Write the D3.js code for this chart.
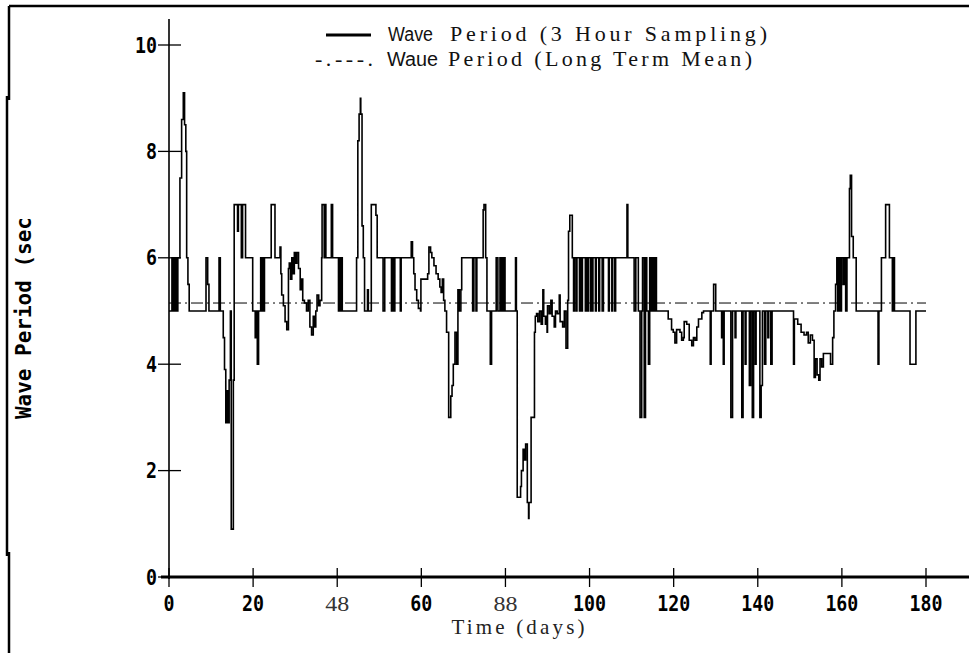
<!DOCTYPE html>
<html>
<head>
<meta charset="utf-8">
<script src="https://cdn.jsdelivr.net/npm/d3@7"></script>
<style>
  html, body { margin: 0; padding: 0; background: #fff; }
  svg { display: block; }
</style>
</head>
<body>
<div id="chart"></div>
<script>
// wave period, 3 hour sampling: [day, seconds] (step trace)
const wavePeriod = [
  [0,5],[0.7,6],[1.0,5],[1.2,6],[1.5,5],[1.7,6],[1.9,5],[2.1,6],
  [2.6,7.5],[3.0,8.6],[3.4,9.1],[3.7,8.5],[4.0,8.0],[4.2,6.0],[4.5,5.5],[4.8,5],
  [8.8,6],[9.2,5.5],[9.5,5],[11.9,6],[12.2,5],[12.9,4.5],[13.2,3.9],[13.5,2.9],[13.8,3.5],
  [14.0,2.9],[14.3,3.7],[14.6,5],[14.8,0.9],[15.3,3.7],[15.5,7],
  [16.3,6.5],[16.5,7],[17.2,6],[17.5,7],[18.2,6],[19.9,5],[20.5,4.5],[20.7,5],[21.0,4.0],
  [21.3,5],[21.8,6],[22.0,5],[22.2,6],[22.4,5],[22.7,6],[24.3,7],[25.2,6],
  [26.4,6.2],[26.6,5.7],[26.8,5.3],[27.2,5.1],[27.6,4.8],[28.0,4.65],[28.4,5.8],[28.6,5.9],
  [28.9,5.6],[29.2,6.0],[29.5,5.7],[29.8,6.1],[30.1,5.9],[30.4,6.1],[30.8,5.8],[31.2,5.4],
  [31.5,5.6],[31.8,5.2],[32.2,5.15],[32.7,5.0],[33.1,5.2],[33.5,4.7],[33.9,4.55],[34.3,4.9],
  [34.6,4.7],[34.9,5.0],[35.2,5.3],[35.6,5.1],[35.9,5.2],
  [36.3,6],[36.4,7],[36.9,6],[37.1,7],[37.3,6],[38.6,7],[38.9,6],[40.3,5],[40.5,6],[40.8,5],
  [41.0,6],[41.2,5],
  [44.6,6],[44.9,8.2],[45.2,8.7],[45.5,9.0],[45.6,8.7],[45.9,6.6],[46.2,6.0],[46.5,5],
  [47.2,5.4],[47.4,5],[48.1,7],[49.2,6.8],[49.5,6],
  [50.9,5],[51.3,6],[52.9,5],[53.2,6],[53.4,5],[53.7,6],[55.0,5],[55.2,6],
  [57.6,6.3],[57.9,6.0],[58.2,5.7],[58.5,5.4],[58.9,5.2],[59.3,5.05],[59.8,5.0],
  [59.9,5.6],[61.5,5.7],[61.8,6.2],[62.2,6.1],[62.5,6.0],[63.0,5.85],[63.5,5.7],[64.0,5.6],
  [64.4,5.45],[64.7,5.35],[65.0,5.6],[65.3,5.2],[65.6,5.0],[66.0,4.6],[66.5,3.0],[67.0,3.4],
  [67.3,3.6],[67.6,4.0],[68.0,4.6],[68.4,4.0],[68.7,5.4],[69.0,5.0],[69.4,5.4],[69.6,6],
  [72.2,5],[72.5,6],[73.0,5],[73.2,6],[74.7,6.9],[74.9,7],[75.3,6],[75.6,5],[76.4,4.0],
  [76.7,5],[77.8,6],[78.2,5],[78.7,6],[78.9,5],[79.1,6],[79.4,5],[79.6,6],[79.9,5],
  [82.4,6],[82.6,5],
  [82.8,1.5],[83.6,1.7],[83.8,2.0],[84.2,2.4],[84.5,2.2],[84.8,2.5],[85.2,1.4],[85.5,1.1],
  [85.6,1.4],[86.1,3.0],[86.9,4.6],[87.1,4.9],
  [87.4,4.95],[87.7,4.8],[88.1,5.0],[88.5,4.75],[88.8,5.0],[88.9,5.4],[89.1,4.9],[89.5,4.75],
  [89.7,4.9],[89.9,4.6],[90.0,5.1],[90.4,4.95],[90.8,5.2],[91.1,4.9],[91.6,4.7],[91.9,5.0],
  [92.3,4.95],[92.8,5.3],[93.0,4.8],[93.6,4.7],[94.0,5.0],[94.4,4.3],[94.8,5.2],[95.0,6.5],
  [95.3,6.8],[95.9,6.0],
  [96.2,5],[96.4,6],[96.8,5],[97.0,6],[97.6,5],[97.8,6],[98.1,5],[98.3,6],[99.0,5],[99.2,6],
  [99.5,5],[99.7,6],[100.2,5],[100.4,6],[100.6,5],[100.8,6],[101.4,5],[101.6,6],
  [102.2,5],[102.4,6],[103.0,5],[103.3,6],[104.5,5],[104.7,6],[105.3,5],[105.5,6],
  [106.0,5],[106.2,6],[108.9,7],[109.1,6],[110.6,5],[111.0,6],[111.6,5],[112.0,3.0],
  [112.4,5],[112.6,6],[113.0,3.0],[113.3,6],[113.6,5],[114.0,4.0],[114.3,6],[114.5,5],
  [114.7,6],[115.0,5],[115.2,6],[115.5,5],[115.7,6],[115.9,5],
  [118.0,5.0],[118.7,4.85],[119.5,4.65],[119.9,4.6],[120.3,4.4],[120.7,4.65],[121.5,4.6],
  [121.9,4.45],[122.3,4.5],[122.5,4.8],[123.1,4.75],[123.7,4.45],[124.3,4.35],[124.7,4.5],
  [125.1,4.45],[125.5,4.7],[125.9,4.85],[126.7,4.97],[127.1,5.0],
  [128.7,4.0],[128.9,5.0],[129.5,5.5],[130.0,5.0],[131.4,4.5],[131.7,5.0],[131.8,4.0],
  [132.0,5.0],[133.6,3.0],[134.0,5.0],[134.6,4.5],[134.8,5.0],[136.2,3.0],[136.5,5.0],
  [137.0,4.0],[137.2,5.0],[138.0,3.6],[138.3,5.0],[138.7,3.0],[139.0,5.0],[139.4,4.0],
  [139.6,5.0],[140.5,3.0],[140.8,3.6],[141.1,5.0],[141.6,4.0],[141.9,5.0],[142.4,4.5],
  [142.6,5.0],[143.1,4.0],[143.4,5.0],
  [148.5,4.0],[148.7,4.85],[149.5,4.75],[150.3,4.6],[151.0,4.55],[151.6,4.6],[152.0,4.4],
  [152.5,4.55],[153.0,4.45],[153.4,3.75],[153.7,4.1],[154.1,3.8],[154.5,3.7],[154.8,4.1],
  [155.2,3.95],[155.6,4.2],[156.8,4.2],[157.3,4.0],[157.8,4.5],[158.1,5.0],
  [158.5,5.5],[158.8,6.0],[159.0,5.0],[159.3,6.0],[159.6,5.0],[159.9,6.0],[160.3,5.5],
  [160.6,6.0],[160.9,5.0],[161.2,6.0],[161.8,7.3],[162.0,7.55],[162.3,6.4],[162.7,6.0],
  [163.4,5.0],
  [168.6,4.0],[168.8,5.0],[169.4,6.0],[170.4,7.0],[171.3,6.0],[172.0,5.0],[172.2,6.0],
  [172.5,5.0],[176.2,4.0],[177.6,5.0],[180,5.0]
];
const meanPeriod = 5.15;   // long term mean (s)

const xTicks = [0, 20, 40, 60, 80, 100, 120, 140, 160, 180];
const xTickLabels = ["0", "20", "48", "60", "88", "100", "120", "140", "160", "180"];
const yTicks = [0, 2, 4, 6, 8, 10];
const yTickLabels = ["0", "2", "4", "6", "8", "10"];

const width = 969;
const height = 653;

const x = d3.scaleLinear().domain([0, 180]).range([169, 926]);
const y = d3.scaleLinear().domain([0, 10]).range([577, 45]);

const svg = d3.select("#chart")
  .append("svg")
  .attr("width", width)
  .attr("height", height);

// scanned page frame (top and left edges)
svg.append("path")
  .attr("d", "M9,6 H969 M9,6 V100 M7,96 V556 M9,552 V653")
  .attr("fill", "none")
  .attr("stroke", "#000")
  .attr("stroke-width", 2.5);

const boldFont = "'DejaVu Sans Mono', monospace";
const courierFont = "'Liberation Serif', 'Times New Roman', serif";  // stands in for Courier
const sansFont = "'Liberation Sans', Arial, sans-serif";

// axes
svg.append("line")
  .attr("x1", x(0)).attr("x2", x(0))
  .attr("y1", 19).attr("y2", y(0) + 2)
  .attr("stroke", "#000").attr("stroke-width", 1.6);

svg.append("line")
  .attr("x1", x(0) - 8).attr("x2", width)
  .attr("y1", y(0)).attr("y2", y(0))
  .attr("stroke", "#000").attr("stroke-width", 3);

svg.selectAll(".ytick")
  .data(yTicks)
  .join("line")
  .attr("class", "ytick")
  .attr("x1", x(0) - 11).attr("x2", x(0) + 12)
  .attr("y1", d => y(d)).attr("y2", d => y(d))
  .attr("stroke", "#000").attr("stroke-width", 1.3);

svg.selectAll(".ylab")
  .data(yTicks)
  .join("text")
  .attr("class", "ylab")
  .attr("x", x(0) - 12)
  .attr("y", d => y(d))
  .attr("dy", "0.36em")
  .attr("text-anchor", "end")
  .attr("font-family", boldFont)
  .attr("font-weight", "bold")
  .attr("font-size", "21px")
  .attr("textLength", (d, i) => yTickLabels[i].length * 11)
  .attr("lengthAdjust", "spacingAndGlyphs")
  .text((d, i) => yTickLabels[i]);

svg.selectAll(".xtick")
  .data(xTicks)
  .join("line")
  .attr("class", "xtick")
  .attr("x1", d => x(d)).attr("x2", d => x(d))
  .attr("y1", y(0) - 9).attr("y2", y(0) + 10)
  .attr("stroke", "#000").attr("stroke-width", 1.3);

// two of the labels came out of the scan in a thin face
const thinLabels = new Set(["48", "88"]);
const isThin = (d, i) => thinLabels.has(xTickLabels[i]);
svg.selectAll(".xlab")
  .data(xTicks)
  .join("text")
  .attr("class", "xlab")
  .attr("x", d => x(d))
  .attr("y", 611)
  .attr("text-anchor", "middle")
  .attr("font-family", (d, i) => isThin(d, i) ? courierFont : boldFont)
  .attr("font-weight", (d, i) => isThin(d, i) ? "normal" : "bold")
  .attr("font-size", (d, i) => isThin(d, i) ? "21px" : "22px")
  .attr("fill", (d, i) => isThin(d, i) ? "#333" : "#000")
  .attr("textLength", (d, i) => xTickLabels[i].length * (isThin(d, i) ? 12 : 11))
  .attr("lengthAdjust", "spacingAndGlyphs")
  .text((d, i) => xTickLabels[i]);

svg.append("text")
  .attr("x", 518)
  .attr("y", 634)
  .attr("text-anchor", "middle")
  .attr("font-family", courierFont)
  .attr("font-size", "21px")
  .attr("fill", "#222")
  .attr("textLength", 133)
  .attr("lengthAdjust", "spacing")
  .text("Time (days)");

svg.append("text")
  .attr("transform", "translate(31, 318) rotate(-90)")
  .attr("text-anchor", "middle")
  .attr("font-family", boldFont)
  .attr("font-weight", "bold")
  .attr("font-size", "21px")
  .attr("textLength", 202)
  .attr("lengthAdjust", "spacingAndGlyphs")
  .text("Wave Period (sec");

// mean line
svg.append("line")
  .attr("x1", x(0)).attr("x2", x(180))
  .attr("y1", y(meanPeriod)).attr("y2", y(meanPeriod))
  .attr("stroke", "#000")
  .attr("stroke-width", 1)
  .attr("stroke-dasharray", "12,4,2,4");

// 3 hour series
const line = d3.line()
  .x(d => x(d[0]))
  .y(d => y(d[1]))
  .curve(d3.curveStepAfter);

svg.append("path")
  .datum(wavePeriod)
  .attr("d", line)
  .attr("fill", "none")
  .attr("stroke", "#000")
  .attr("stroke-width", 1.6);

// legend
const legend = svg.append("g");
legend.append("line")
  .attr("x1", 326).attr("x2", 371)
  .attr("y1", 35).attr("y2", 35)
  .attr("stroke", "#000").attr("stroke-width", 3);

const legendText = (lx, ly, txt, font, size, len, adj) => legend.append("text")
  .attr("x", lx).attr("y", ly)
  .attr("font-family", font)
  .attr("font-size", size)
  .attr("textLength", len)
  .attr("lengthAdjust", adj)
  .attr("fill", "#111")
  .text(txt);

legendText(388, 41, "Wave", sansFont, "20px", 45, "spacingAndGlyphs");
legendText(450, 41, "Period (3 Hour Sampling)", courierFont, "22px", 317, "spacing");
legendText(315, 66, "-.---.", courierFont, "22px", 58, "spacing");
legendText(387, 66, "Waue", sansFont, "20px", 51, "spacingAndGlyphs");
legendText(448, 66, "Period (Long Term Mean)", courierFont, "22px", 304, "spacing");
</script>
</body>
</html>
